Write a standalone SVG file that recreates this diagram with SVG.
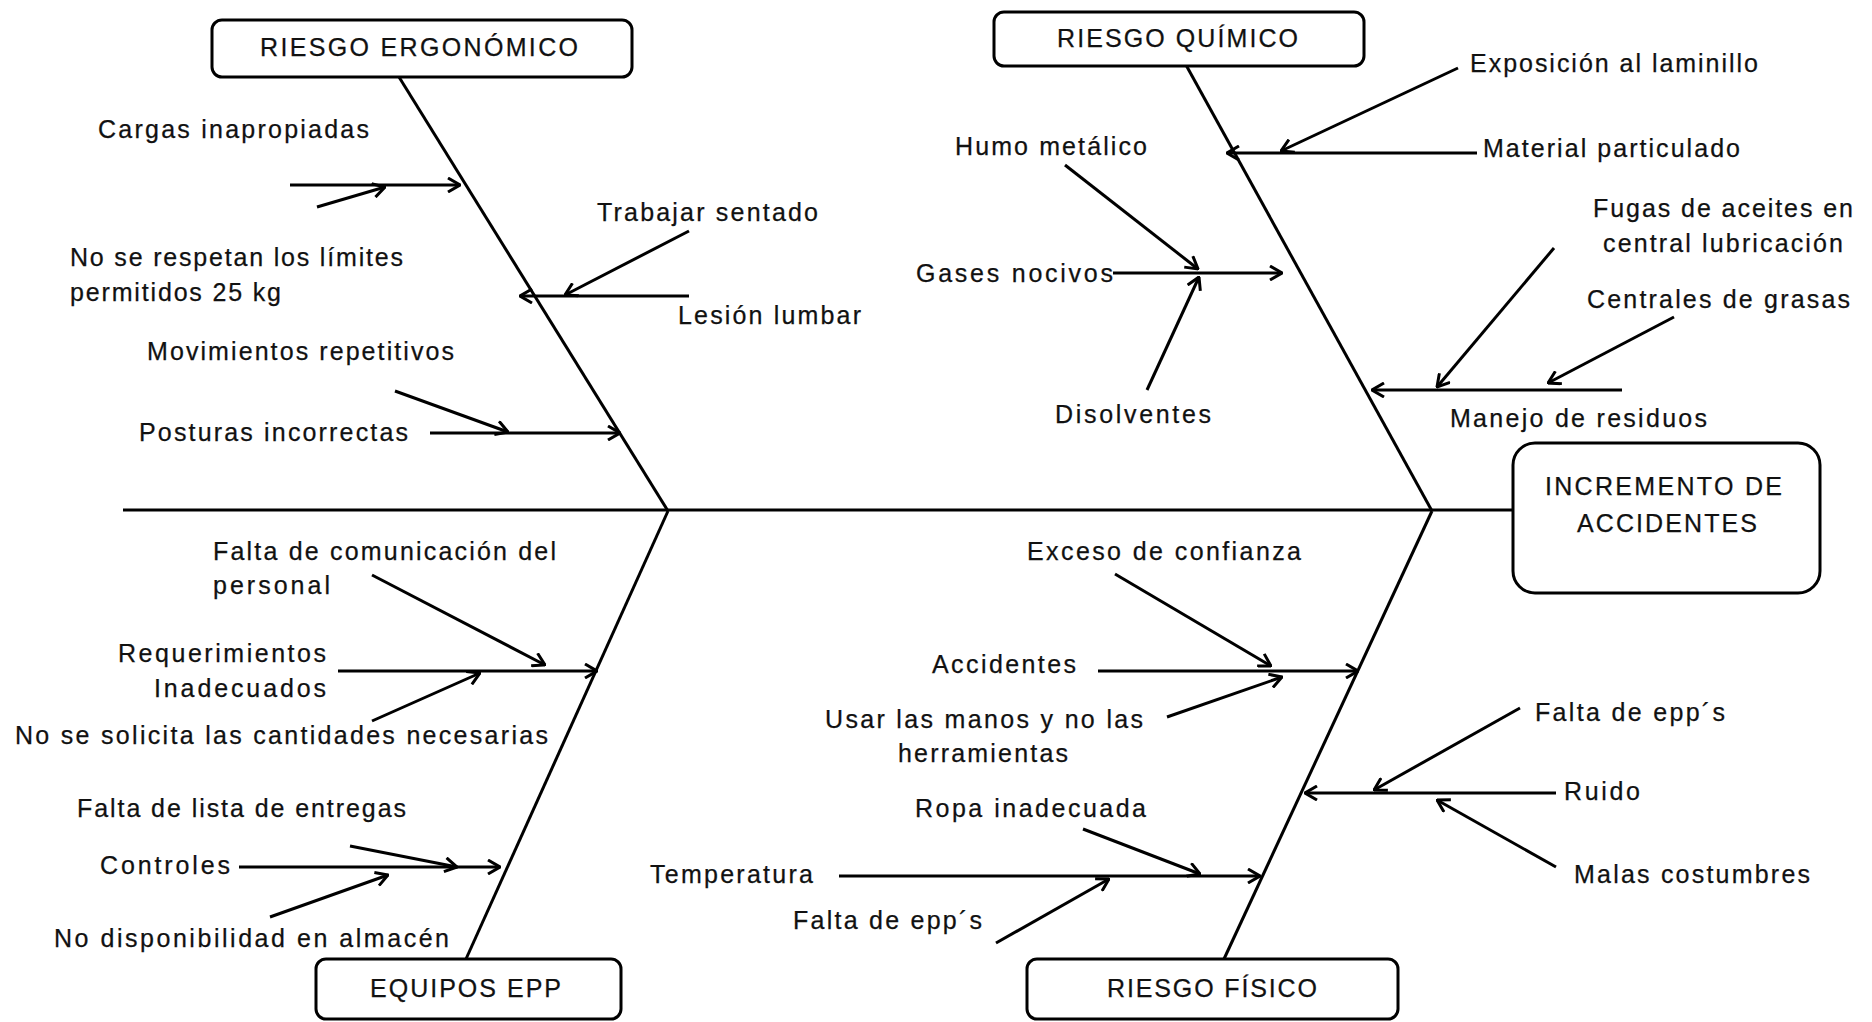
<svg xmlns="http://www.w3.org/2000/svg" width="1872" height="1022" viewBox="0 0 1872 1022">
<style>
.box{fill:#fff;stroke:#000;stroke-width:3}
.bone{stroke:#000;stroke-width:3;fill:none}
.arr{stroke:#000;stroke-width:3;fill:none;marker-end:url(#ah)}
text{font-family:"Liberation Sans",Arial,sans-serif;font-size:25px;fill:#111;stroke:#111;stroke-width:0.25}
</style>
<defs>
<marker id="ah" viewBox="0 0 14 16" refX="13" refY="8" markerWidth="14" markerHeight="16" markerUnits="userSpaceOnUse" orient="auto">
<path d="M1,1 L13,8 L1,15" fill="none" stroke="#000" stroke-width="3"/>
</marker>
</defs>
<rect width="1872" height="1022" fill="#fff"/>

<g id="connectors">
<line class="bone" x1="123" y1="510" x2="1513" y2="510"/>
<line class="bone" x1="399" y1="77" x2="668" y2="511"/>
<line class="bone" x1="1186" y1="65" x2="1432" y2="511"/>
<line class="bone" x1="466" y1="959" x2="668" y2="511"/>
<line class="bone" x1="1224" y1="959" x2="1432" y2="511"/>
<!-- Ergonomico -->
<line class="arr" x1="290" y1="185" x2="460" y2="185"/>
<line class="arr" x1="317" y1="207" x2="385" y2="187"/>
<line class="arr" x1="689" y1="296" x2="520" y2="296"/>
<line class="arr" x1="689" y1="231" x2="565" y2="295"/>
<line class="arr" x1="430" y1="433" x2="620" y2="433"/>
<line class="arr" x1="395" y1="391" x2="508" y2="432"/>
<!-- Quimico -->
<line class="arr" x1="1477" y1="153" x2="1227" y2="153"/>
<line class="arr" x1="1458" y1="68" x2="1281" y2="151"/>
<line class="arr" x1="1113" y1="273" x2="1282" y2="273"/>
<line class="arr" x1="1065" y1="165" x2="1198" y2="269"/>
<line class="arr" x1="1147" y1="390" x2="1199" y2="277"/>
<line class="arr" x1="1622" y1="390" x2="1372" y2="390"/>
<line class="arr" x1="1554" y1="248" x2="1437" y2="387"/>
<line class="arr" x1="1674" y1="317" x2="1548" y2="383"/>
<!-- EPP -->
<line class="arr" x1="338" y1="671" x2="597" y2="671"/>
<line class="arr" x1="372" y1="575" x2="545" y2="665"/>
<line class="arr" x1="372" y1="721" x2="480" y2="673"/>
<line class="arr" x1="239" y1="867" x2="500" y2="867"/>
<line class="arr" x1="350" y1="846" x2="457" y2="867"/>
<line class="arr" x1="270" y1="917" x2="388" y2="875"/>
<!-- Fisico -->
<line class="arr" x1="1098" y1="671" x2="1358" y2="671"/>
<line class="arr" x1="1115" y1="574" x2="1271" y2="666"/>
<line class="arr" x1="1167" y1="717" x2="1282" y2="677"/>
<line class="arr" x1="839" y1="876" x2="1260" y2="876"/>
<line class="arr" x1="1083" y1="829" x2="1200" y2="874"/>
<line class="arr" x1="996" y1="943" x2="1109" y2="879"/>
<line class="arr" x1="1556" y1="793" x2="1305" y2="793"/>
<line class="arr" x1="1520" y1="708" x2="1374" y2="790"/>
<line class="arr" x1="1556" y1="867" x2="1437" y2="800"/>
</g>

<g id="riesgo-ergonomico">
<rect class="box" x="212" y="20" width="420" height="57" rx="10"/>
<text x="260" y="56" textLength="318" lengthAdjust="spacing">RIESGO ERGONÓMICO</text>
</g>
<g id="riesgo-quimico">
<rect class="box" x="994" y="12" width="370" height="54" rx="10"/>
<text x="1057" y="47" textLength="241" lengthAdjust="spacing">RIESGO QUÍMICO</text>
</g>
<g id="incremento-accidentes">
<rect class="box" x="1513" y="443" width="307" height="150" rx="22"/>
<text x="1545" y="495" textLength="237" lengthAdjust="spacing">INCREMENTO DE</text>
<text x="1577" y="532" textLength="180" lengthAdjust="spacing">ACCIDENTES</text>
</g>
<g id="equipos-epp">
<rect class="box" x="316" y="959" width="305" height="60" rx="10"/>
<text x="370" y="997" textLength="191" lengthAdjust="spacing">EQUIPOS EPP</text>
</g>
<g id="riesgo-fisico">
<rect class="box" x="1027" y="959" width="371" height="60" rx="10"/>
<text x="1107" y="997" textLength="210" lengthAdjust="spacing">RIESGO FÍSICO</text>
</g>

<g id="causas-ergonomico">
<text x="98" y="138" textLength="271" lengthAdjust="spacing">Cargas inapropiadas</text>
<text x="70" y="266" textLength="333" lengthAdjust="spacing">No se respetan los límites</text>
<text x="70" y="301" textLength="211" lengthAdjust="spacing">permitidos 25 kg</text>
<text x="147" y="360" textLength="307" lengthAdjust="spacing">Movimientos repetitivos</text>
<text x="139" y="441" textLength="269" lengthAdjust="spacing">Posturas incorrectas</text>
<text x="597" y="221" textLength="221" lengthAdjust="spacing">Trabajar sentado</text>
<text x="678" y="324" textLength="183" lengthAdjust="spacing">Lesión lumbar</text>
</g>
<g id="causas-quimico">
<text x="1470" y="72" textLength="288" lengthAdjust="spacing">Exposición al laminillo</text>
<text x="1483" y="157" textLength="257" lengthAdjust="spacing">Material particulado</text>
<text x="1593" y="217" textLength="260" lengthAdjust="spacing">Fugas de aceites en</text>
<text x="1603" y="252" textLength="240" lengthAdjust="spacing">central lubricación</text>
<text x="1587" y="308" textLength="263" lengthAdjust="spacing">Centrales de grasas</text>
<text x="1450" y="427" textLength="257" lengthAdjust="spacing">Manejo de residuos</text>
<text x="955" y="155" textLength="192" lengthAdjust="spacing">Humo metálico</text>
<text x="916" y="282" textLength="197" lengthAdjust="spacing">Gases nocivos</text>
<text x="1055" y="423" textLength="156" lengthAdjust="spacing">Disolventes</text>
</g>
<g id="causas-epp">
<text x="213" y="560" textLength="343" lengthAdjust="spacing">Falta de comunicación del</text>
<text x="213" y="594" textLength="117" lengthAdjust="spacing">personal</text>
<text x="118" y="662" textLength="208" lengthAdjust="spacing">Requerimientos</text>
<text x="154" y="697" textLength="172" lengthAdjust="spacing">Inadecuados</text>
<text x="15" y="744" textLength="533" lengthAdjust="spacing">No se solicita las cantidades necesarias</text>
<text x="77" y="817" textLength="329" lengthAdjust="spacing">Falta de lista de entregas</text>
<text x="100" y="874" textLength="130" lengthAdjust="spacing">Controles</text>
<text x="54" y="947" textLength="395" lengthAdjust="spacing">No disponibilidad en almacén</text>
</g>
<g id="causas-fisico">
<text x="1027" y="560" textLength="274" lengthAdjust="spacing">Exceso de confianza</text>
<text x="932" y="673" textLength="144" lengthAdjust="spacing">Accidentes</text>
<text x="825" y="728" textLength="318" lengthAdjust="spacing">Usar las manos y no las</text>
<text x="898" y="762" textLength="170" lengthAdjust="spacing">herramientas</text>
<text x="915" y="817" textLength="231" lengthAdjust="spacing">Ropa inadecuada</text>
<text x="650" y="883" textLength="163" lengthAdjust="spacing">Temperatura</text>
<text x="793" y="929" textLength="189" lengthAdjust="spacing">Falta de epp´s</text>
<text x="1535" y="721" textLength="190" lengthAdjust="spacing">Falta de epp´s</text>
<text x="1564" y="800" textLength="76" lengthAdjust="spacing">Ruido</text>
<text x="1574" y="883" textLength="236" lengthAdjust="spacing">Malas costumbres</text>
</g>
</svg>
